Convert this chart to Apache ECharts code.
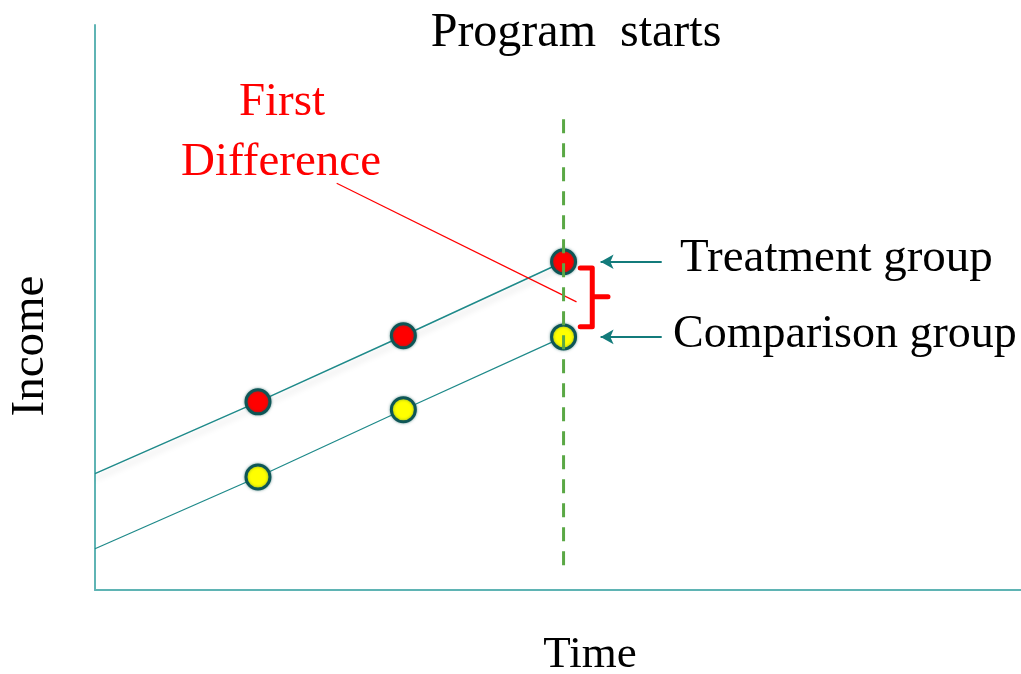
<!DOCTYPE html>
<html>
<head>
<meta charset="utf-8">
<script src="https://cdn.jsdelivr.net/npm/echarts@6/dist/echarts.min.js"></script>
<style>
  html, body { margin: 0; padding: 0; background: #fff; }
  #main { width: 1021px; height: 674px; }
</style>
</head>
<body>
<div id="main"></div>
<script>
// data (axis units 0..100 on both axes)
const timePoints = [17.6, 33.3, 50.6];
const treatment = [33.3, 45.0, 58.1];
const comparison = [20.0, 31.9, 44.8];
const lineStart = { treatment: 20.6, comparison: 7.3 };
const programStart = 50.6;
const programLineY = [4.4, 83.5];
const leaderLine = [[26.1, 72.0], [52.0, 51.0]];
const bracket = [[52.4, 57.0], [53.7, 57.0], [53.7, 51.9], [55.4, 51.9], [53.7, 51.9], [53.7, 46.6], [52.4, 46.6]];
const arrowX = [61.2, 54.6];

const chart = echarts.init(document.getElementById('main'));

const tealLine = '#1f8a8a';
const font = '"Liberation Serif", serif';

function pts(ys, start) {
  const arr = [[0, start]];
  timePoints.forEach((t, i) => arr.push([t, ys[i]]));
  return arr;
}

function label(text, x, y, size, color, align, rot) {
  return {
    type: 'text', x: x, y: y, rotation: rot || 0,
    style: { text: text, font: size + 'px ' + font, fill: color, align: align, verticalAlign: 'middle' }
  };
}

chart.setOption({
  animation: false,
  grid: { left: 95, right: 0, top: 25, bottom: 84 },
  xAxis: {
    type: 'value', min: 0, max: 100,
    axisLine: { show: true, lineStyle: { color: '#5fb4b4', width: 2 } },
    axisTick: { show: false }, axisLabel: { show: false }, splitLine: { show: false }
  },
  yAxis: {
    type: 'value', min: 0, max: 100,
    axisLine: { show: true, lineStyle: { color: '#5fb4b4', width: 2 } },
    axisTick: { show: false }, axisLabel: { show: false }, splitLine: { show: false }
  },
  series: [
    {
      type: 'line', data: pts(treatment, lineStart.treatment), showSymbol: false, z: 2,
      lineStyle: { color: tealLine, width: 1.5, shadowColor: 'rgba(0,0,0,0.18)', shadowBlur: 6, shadowOffsetY: 5 }
    },
    {
      type: 'line', data: pts(comparison, lineStart.comparison), showSymbol: false, z: 2,
      lineStyle: { color: tealLine, width: 1.3 }
    },
    {
      type: 'line', data: leaderLine, showSymbol: false, z: 3,
      lineStyle: { color: '#ff0000', width: 1.2 }
    },
    {
      type: 'scatter', data: timePoints.map((t, i) => [t, treatment[i]]), symbolSize: 24, z: 4,
      itemStyle: { color: '#ff0000', opacity: 1, borderColor: '#0e5656', borderWidth: 3, shadowColor: 'rgba(14,86,86,0.5)', shadowBlur: 3 }
    },
    {
      type: 'scatter', data: timePoints.map((t, i) => [t, comparison[i]]), symbolSize: 24, z: 4,
      itemStyle: { color: '#ffff00', opacity: 1, borderColor: '#0e5656', borderWidth: 3, shadowColor: 'rgba(14,86,86,0.5)', shadowBlur: 3 }
    },
    {
      type: 'line', data: programLineY.map(y => [programStart, y]), showSymbol: false, z: 5,
      lineStyle: { color: '#5aa845', width: 3, type: [14, 10] }
    },
    {
      type: 'line', data: bracket, showSymbol: false, z: 5,
      lineStyle: { color: '#ff0000', width: 5, join: 'round', cap: 'round' }
    },
    {
      type: 'line', data: [], z: 5,
      markLine: {
        silent: true, symbol: ['none', 'arrow'], symbolSize: [11, 13],
        lineStyle: { color: '#137b7b', width: 2, type: 'solid' },
        label: { show: false },
        data: [
          [{ coord: [arrowX[0], treatment[2]] }, { coord: [arrowX[1], treatment[2]] }],
          [{ coord: [arrowX[0], comparison[2]] }, { coord: [arrowX[1], comparison[2]] }]
        ]
      }
    }
  ],
  graphic: [
    label('Program  starts', 576, 33, 48, '#000', 'center'),
    label('First', 282, 103, 47, '#ff0000', 'center'),
    label('Difference', 281, 163, 47, '#ff0000', 'center'),
    label('Treatment group', 680, 259, 47, '#000', 'left'),
    label('Comparison group', 673, 335, 46, '#000', 'left'),
    label('Time', 590, 655, 45, '#000', 'center'),
    label('Income', 31, 346, 47, '#000', 'center', Math.PI / 2)
  ]
});
</script>
</body>
</html>
